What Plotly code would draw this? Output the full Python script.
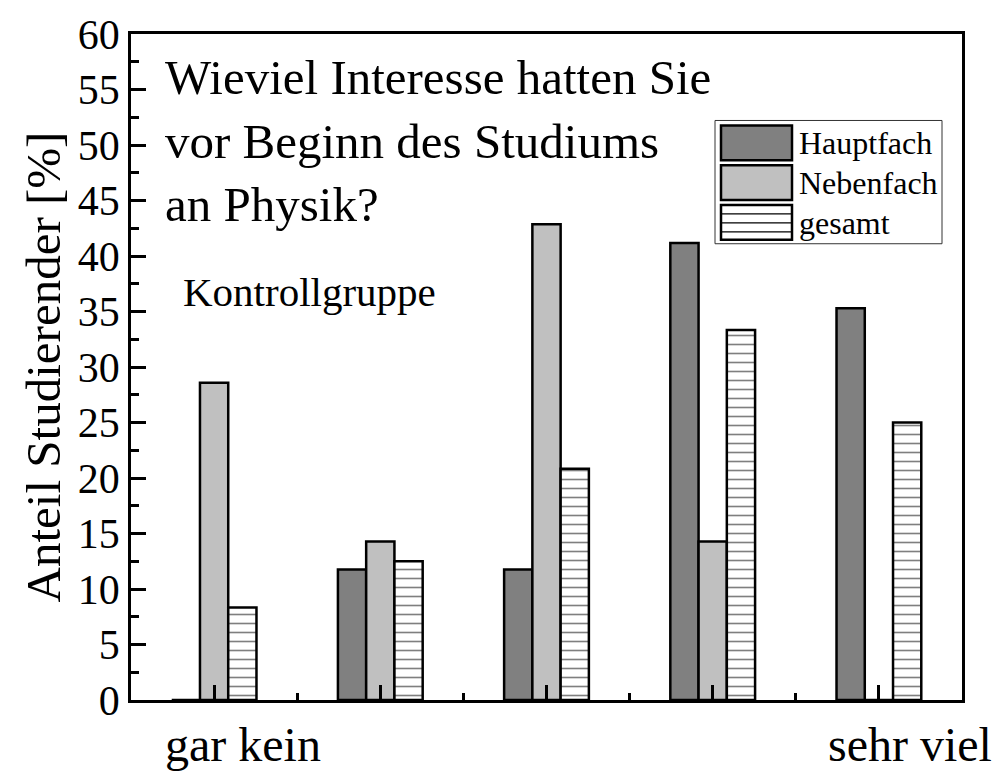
import plotly.graph_objects as go

categories = [0, 1, 2, 3, 4]
hauptfach = [0.0, 11.76, 11.76, 41.18, 35.29]
nebenfach = [28.57, 14.29, 42.86, 14.29, 0.0]
gesamt = [8.33, 12.5, 20.83, 33.33, 25.0]
series_names = ["Hauptfach", "Nebenfach", "gesamt"]
y_ticks = list(range(0, 61, 5))
x_end_labels = ["gar kein", "sehr viel"]

FONT = "Liberation Serif"
W, H = 1000, 772
L, R, T, B = 131, 38, 30, 72
PW, PH = W - L - R, H - T - B


def px_x(p):
    return (p - L) / PW


def px_y(p):
    return (H - B - p) / PH


fig = go.Figure()
fig.add_trace(go.Bar(x=categories, y=hauptfach, name=series_names[0],
                     marker=dict(color="#808080", line=dict(color="black", width=2.5))))
fig.add_trace(go.Bar(x=categories, y=nebenfach, name=series_names[1],
                     marker=dict(color="#c0c0c0", line=dict(color="black", width=2.5))))
fig.add_trace(go.Bar(x=categories, y=gesamt, name=series_names[2],
                     marker=dict(color="white", line=dict(color="black", width=2.5),
                                 pattern=dict(shape="-", fgcolor="black", bgcolor="white",
                                              size=9, solidity=0.18))))
# invisible helper trace so the overlay axis (minor ticks between categories) is drawn
fig.add_trace(go.Scatter(x=categories, y=gesamt, xaxis="x2", mode="none",
                         showlegend=False, hoverinfo="skip"))

fig.update_layout(
    width=W, height=H,
    margin=dict(l=L, r=R, t=T, b=B, pad=0),
    paper_bgcolor="white", plot_bgcolor="white",
    barmode="group", bargap=0.49, bargroupgap=0,
    showlegend=False,
    font=dict(family=FONT, color="black"),
    xaxis2=dict(overlaying="x", side="bottom", range=[-0.5, 4.5], anchor="y",
                tickmode="array", tickvals=[c + 0.5 for c in categories[:-1]],
                ticktext=["" for _ in categories[:-1]], showticklabels=True,
                ticks="inside", ticklen=7, tickwidth=2.5,
                tickcolor="black", showline=False, showgrid=False, zeroline=False,
                layer="below traces"),
)
fig.layout.xaxis.update(
    range=[-0.5, 4.5], tickmode="array", tickvals=categories,
    ticktext=["" for _ in categories], showticklabels=True,
    ticks="inside", ticklen=15, tickwidth=2.5, tickcolor="black",
    showline=True, linecolor="black", linewidth=2.5, mirror=True,
    showgrid=False, zeroline=False, layer="above traces",
)
fig.update_yaxes(
    range=[0, 60], tickmode="array", tickvals=y_ticks, ticktext=[str(v) for v in y_ticks],
    tickfont=dict(family=FONT, size=42, color="black"),
    ticks="inside", ticklen=15, tickwidth=2.5, tickcolor="black",
    minor=dict(dtick=2.5, ticks="inside", ticklen=8, tickwidth=2.5, tickcolor="black"),
    showline=True, linecolor="black", linewidth=2.5, mirror=True,
    showgrid=False, zeroline=False, layer="above traces",
    title=dict(text="Anteil Studierender [%]", font=dict(family=FONT, size=49, color="black"),
               standoff=2),
)

# x end labels
fig.add_annotation(x=categories[0] + 0.175, y=px_y(745), xref="x", yref="paper",
                   text=x_end_labels[0], showarrow=False, xanchor="center", yanchor="middle",
                   font=dict(family=FONT, size=48, color="black"))
fig.add_annotation(x=categories[-1] + 0.19, y=px_y(745), xref="x", yref="paper",
                   text=x_end_labels[1], showarrow=False, xanchor="center", yanchor="middle",
                   font=dict(family=FONT, size=48, color="black"))

# question text
fig.add_annotation(x=px_x(163), y=px_y(138), xref="paper", yref="paper",
                   text="Wieviel Interesse hatten Sie<br>vor Beginn des Studiums<br>an Physik?",
                   showarrow=False, xanchor="left", yanchor="middle", align="left",
                   font=dict(family=FONT, size=49, color="black"))
fig.add_annotation(x=px_x(181), y=px_y(290), xref="paper", yref="paper",
                   text="Kontrollgruppe", showarrow=False, xanchor="left", yanchor="middle",
                   font=dict(family=FONT, size=41, color="black"))

# manual legend
shapes = []
shapes.append(dict(type="rect", xref="paper", yref="paper",
                   x0=px_x(715), x1=px_x(942), y0=px_y(241), y1=px_y(117),
                   line=dict(color="#333333", width=1), fillcolor="white", layer="above"))
legend_fills = ["#808080", "#c0c0c0", "white"]
row_tops = [122, 162, 202]
for i, (name, fill) in enumerate(zip(series_names, legend_fills)):
    top = row_tops[i]
    shapes.append(dict(type="rect", xref="paper", yref="paper",
                       x0=px_x(721), x1=px_x(792), y0=px_y(top + 35), y1=px_y(top),
                       line=dict(color="black", width=2.5), fillcolor=fill, layer="above"))
    if i == 2:
        for ly in (top + 9, top + 18, top + 27):
            shapes.append(dict(type="line", xref="paper", yref="paper",
                               x0=px_x(721), x1=px_x(792), y0=px_y(ly), y1=px_y(ly),
                               line=dict(color="black", width=1.2), layer="above"))
    fig.add_annotation(x=px_x(797), y=px_y(top + 18), xref="paper", yref="paper",
                       text=name, showarrow=False, xanchor="left", yanchor="middle",
                       font=dict(family=FONT, size=32, color="black"))
fig.update_layout(shapes=shapes)

fig.write_html("out.html", config={"displayModeBar": False},
               post_script="document.body.style.margin='0';document.body.style.padding='0';")
